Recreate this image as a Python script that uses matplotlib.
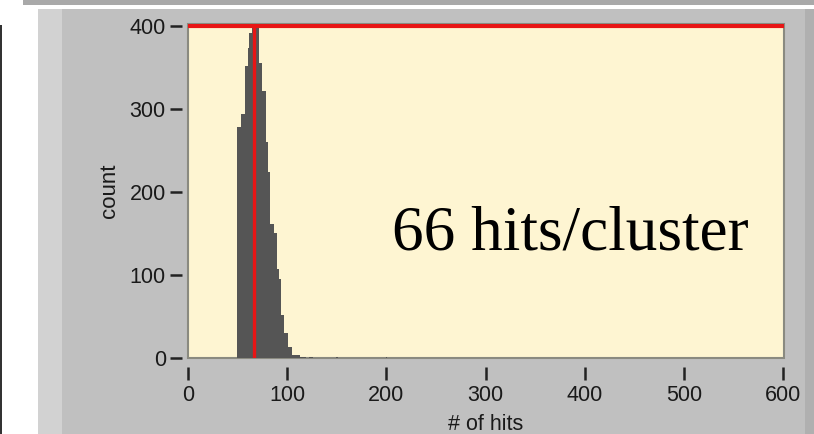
import matplotlib
matplotlib.use("Agg")
import matplotlib.pyplot as plt
from matplotlib.patches import Rectangle

# histogram of hits per cluster (bin edges and counts)
bin_edges = [49, 53, 57, 60, 62, 64.5, 72, 75, 78.5, 81, 82.5, 87, 89.5, 91.5,
             93.5, 97, 101, 104.5, 113, 118, 119, 122, 126, 149, 151, 200, 201]
bin_counts = [279, 294, 352, 374, 392, 410, 356, 322, 261, 225, 162, 151, 108,
              96, 52, 30, 14, 4, 1, 2, 0, 2, 0, 2, 0, 2]
mean_hits = 67
cursor_level = 400
x_ticks = [0, 100, 200, 300, 400, 500, 600]
y_ticks = [0, 100, 200, 300, 400]
note = "66 hits/cluster"

W, H = 814, 434
fig = plt.figure(figsize=(W / 100, H / 100), dpi=100)
fig.patch.set_facecolor("white")

def box(x0, y0, x1, y1, color):
    # pixel box -> figure fraction
    fig.patches.append(Rectangle((x0 / W, 1 - y1 / H), (x1 - x0) / W, (y1 - y0) / H,
                                 transform=fig.transFigure, facecolor=color,
                                 edgecolor="none", zorder=-5))

# LabVIEW-ish panel behind the graph
box(23, 0, W, 5, "#a9a9a9")
box(38, 9, W, H, "#c0c0c0")
box(38, 9, 62, H, "#d2d2d2")
box(805, 9, W, H, "#b0b0b0")
box(0, 25, 2, H, "#333333")

ax = fig.add_axes([188 / W, 1 - 358.3 / H, (784 - 188) / W, (358.3 - 24) / H])
ax.set_zorder(2)
ax.set_facecolor("#fef5d2")
ax.patch.set_edgecolor("#8a8a80")
ax.patch.set_linewidth(1.5)

ax.stairs(bin_counts, bin_edges, fill=True, color="#555555", zorder=2)
ax.axvline(mean_hits, color="#e81515", lw=2.4, zorder=3)
ax.axhline(cursor_level, color="#e81515", lw=3, zorder=3)

ax.set_xlim(0, 601)
ax.set_ylim(0, 403)
ax.set_xticks(x_ticks)
ax.set_yticks(y_ticks)

for side in ["top", "right"]:
    ax.spines[side].set_visible(False)
ax.spines["left"].set_position(("outward", 4))
ax.spines["bottom"].set_position(("outward", 6))
ax.spines["left"].set_visible(False)
ax.spines["bottom"].set_visible(False)

ax.tick_params(axis="both", direction="out", length=9, width=1.8,
               color="#222222", labelcolor="#1a1a1a")
ax.tick_params(axis="x", pad=4)
ax.tick_params(axis="y", pad=3)
for lab in ax.get_xticklabels() + ax.get_yticklabels():
    lab.set_fontfamily("Liberation Sans")
    lab.set_fontsize(15.5)

ax.set_xlabel("# of hits", family="Liberation Sans", fontsize=15.5, color="#1a1a1a", labelpad=6)
ax.set_ylabel("count", family="Liberation Sans", fontsize=16, color="#1a1a1a", labelpad=7)

ax.text(206, 131, note, family="Liberation Serif", fontsize=45.5, color="black",
        ha="left", va="baseline", zorder=4)

fig.savefig("out.png", dpi=100)
